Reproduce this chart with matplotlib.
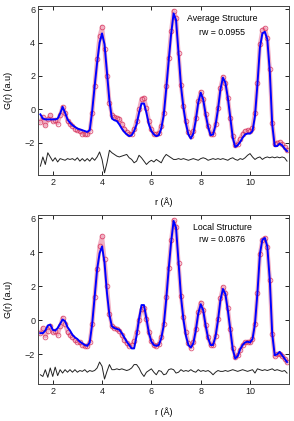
import matplotlib
matplotlib.use("Agg")
import matplotlib.pyplot as plt

plt.rcParams['font.family'] = ['Liberation Sans', 'DejaVu Sans']

# r grid (Angstrom)
r = [1.5, 1.6, 1.7, 1.8, 1.9, 2.0, 2.1, 2.2, 2.3, 2.4,
     2.5, 2.6, 2.7, 2.8, 2.9, 3.0, 3.1, 3.2, 3.3, 3.4,
     3.5, 3.6, 3.7, 3.8, 3.9, 4.0, 4.1, 4.2, 4.3, 4.4,
     4.5, 4.6, 4.7, 4.8, 4.9, 5.0, 5.1, 5.2, 5.3, 5.4,
     5.5, 5.6, 5.7, 5.8, 5.9, 6.0, 6.1, 6.2, 6.3, 6.4,
     6.5, 6.6, 6.7, 6.8, 6.9, 7.0, 7.1, 7.2, 7.3, 7.4,
     7.5, 7.6, 7.7, 7.8, 7.9, 8.0, 8.1, 8.2, 8.3, 8.4,
     8.5, 8.6, 8.7, 8.8, 8.9, 9.0, 9.1, 9.2, 9.3, 9.4,
     9.5, 9.6, 9.7, 9.8, 9.9, 10.0, 10.1, 10.2, 10.3, 10.4,
     10.5, 10.6, 10.7, 10.8, 10.9, 11.0, 11.1, 11.2, 11.3, 11.4,
     11.5]

# measured G(r)
g_obs = [-0.75, -0.45, -0.95, -0.6, -0.35, -0.7, -0.65, -0.85, -0.35, 0.15,
         -0.2, -0.7, -0.85, -1.0, -1.15, -1.25, -1.3, -1.45, -1.5, -1.5,
         -1.3, -0.2, 1.4, 3.0, 4.4, 4.95, 3.6, 2.0, 0.4, -0.35,
         -0.45, -0.5, -0.6, -0.85, -1.15, -1.35, -1.5, -1.45, -1.2, -0.7,
         0.0, 0.65, 0.7, 0.1, -0.7, -1.2, -1.45, -1.5, -1.4, -1.0,
         -0.2, 1.4, 3.1, 4.7, 5.9, 5.5, 3.4, 1.45, 0.2, -0.7,
         -1.35, -1.6, -1.3, -0.5, 0.5, 1.05, 0.6, -0.3, -1.0, -1.45,
         -1.45, -0.9, 0.1, 1.3, 1.95, 1.6, 0.7, -0.5, -1.6, -2.15,
         -2.05, -1.75, -1.45, -1.3, -1.25, -1.3, -1.1, -0.2, 1.6, 3.9,
         4.75, 4.85, 4.3, 2.4, -0.8, -2.1, -2.0, -1.95, -2.1, -2.25,
         -2.45]

# average structure fit
g_avg = [-0.3, -0.55, -0.6, -0.6, -0.6, -0.6, -0.6, -0.55, -0.25, 0.15,
         -0.2, -0.6, -0.8, -0.95, -1.05, -1.15, -1.2, -1.25, -1.3, -1.35,
         -1.25, -0.1, 1.4, 2.8, 4.0, 4.55, 3.9, 2.2, 0.5, -0.55,
         -0.65, -0.7, -0.9, -1.15, -1.35, -1.5, -1.6, -1.55, -1.3, -0.9,
         -0.2, 0.35, 0.35, -0.2, -0.9, -1.3, -1.5, -1.6, -1.55, -1.15,
         -0.35, 1.2, 2.9, 4.5, 5.75, 5.35, 3.4, 1.4, 0.1, -0.85,
         -1.5, -1.75, -1.45, -0.65, 0.4, 1.0, 0.6, -0.3, -1.05, -1.55,
         -1.5, -0.95, 0.0, 1.2, 1.9, 1.6, 0.7, -0.5, -1.7, -2.25,
         -2.15, -1.95, -1.7, -1.5, -1.45, -1.45, -1.3, -0.4, 1.5, 3.7,
         4.55, 4.65, 4.2, 2.3, -0.9, -2.2, -2.2, -2.05, -2.15, -2.35,
         -2.5]

# local structure fit
g_loc = [-0.75, -0.75, -0.6, -0.3, -0.25, -0.55, -0.6, -0.45, -0.2, 0.05,
         -0.05, -0.4, -0.6, -0.85, -1.0, -1.1, -1.25, -1.35, -1.45, -1.5,
         -1.3, -0.2, 1.4, 3.0, 3.95, 4.35, 3.4, 1.6, 0.3, -0.35,
         -0.45, -0.5, -0.55, -0.75, -1.0, -1.25, -1.45, -1.65, -1.65, -0.9,
         0.1, 0.9, 0.9, 0.1, -0.75, -1.25, -1.45, -1.5, -1.45, -1.05,
         -0.3, 1.2, 3.0, 4.6, 5.85, 5.45, 3.45, 1.4, 0.05, -0.9,
         -1.45, -1.6, -1.35, -0.6, 0.4, 0.95, 0.6, -0.3, -1.05, -1.45,
         -1.45, -0.95, 0.0, 1.2, 1.85, 1.55, 0.6, -0.55, -1.7, -2.25,
         -2.1, -1.7, -1.45, -1.3, -1.25, -1.3, -1.1, -0.2, 1.6, 3.9,
         4.75, 4.85, 4.35, 2.4, -0.8, -2.05, -2.0, -1.85, -2.05, -2.25,
         -2.45]

# difference curves (already offset)
d_avg = [-3.4, -2.85, -3.3, -2.6, -2.85, -3.1, -2.9, -3.15, -2.95, -3.0,
         -3.05, -2.95, -3.0, -2.95, -3.05, -2.9, -3.1, -2.95, -3.1, -2.95,
         -3.1, -2.9, -3.05, -2.85, -2.55, -3.0, -3.8, -3.2, -2.45, -2.6,
         -2.7, -2.8, -2.85, -2.8, -2.75, -2.7, -2.9, -3.0, -3.2, -3.1,
         -2.75, -2.9, -3.1, -3.3, -3.15, -3.05, -3.15, -3.0, -3.1, -3.2,
         -2.9, -2.7, -2.8, -2.9, -3.0, -3.0, -2.95, -3.0, -2.95, -3.0,
         -3.05, -3.0, -2.95, -3.0, -3.05, -2.95, -2.9, -2.95, -3.05, -3.0,
         -2.95, -3.0, -2.95, -3.0, -2.95, -3.0, -3.05, -2.95, -2.9, -3.0,
         -3.05, -2.95, -3.0, -2.9, -2.75, -2.65, -2.85, -3.0, -2.9, -2.85,
         -3.0, -2.9, -2.85, -2.9, -2.85, -2.9, -2.85, -2.9, -2.85, -2.9,
         -3.1]

d_loc = [-3.2, -3.3, -2.9, -3.35, -2.8, -3.3, -2.75, -3.25, -2.9, -3.1,
         -2.9, -3.05, -2.9, -3.05, -2.9, -3.05, -2.95, -3.0, -2.9, -3.05,
         -2.95, -3.0, -2.95, -2.8, -2.45, -2.7, -3.45, -3.0, -2.6, -2.9,
         -2.9, -2.85, -2.9, -2.85, -2.9, -2.95, -2.9, -2.8, -2.6, -2.6,
         -2.8, -3.1, -3.3, -3.05, -2.95, -2.85, -3.05, -3.2, -2.95, -3.0,
         -3.2, -3.15, -2.9, -2.85, -2.9, -3.1, -3.05, -2.9, -3.0, -2.95,
         -3.0, -2.9, -3.0, -3.05, -2.9, -3.0, -2.95, -3.0, -2.95, -3.05,
         -3.2, -3.05, -2.95, -3.0, -3.0, -2.95, -3.0, -2.95, -2.9, -2.95,
         -3.0, -2.95, -2.9, -2.95, -3.0, -2.95, -2.9, -3.1, -2.85, -2.9,
         -2.95, -2.9, -2.95, -2.9, -2.85, -2.95, -2.9, -2.95, -3.0, -2.95,
         -3.1]

panels = [
    ("Average Structure", "rw = 0.0955", g_avg, d_avg),
    ("Local Structure", "rw = 0.0876", g_loc, d_loc),
]

fig = plt.figure(figsize=(2.94, 4.21), dpi=100)
ax_top = fig.add_axes([0.129, 0.584, 0.854, 0.402])
ax_bot = fig.add_axes([0.129, 0.088, 0.854, 0.401])
ylims = [(-3.94, 6.2), (-3.74, 6.19)]
label_y = [-0.158, -0.166]
text_y = [(0.923, 0.844), (0.925, 0.856)]

for i, (ax, (name, rw, fit, diff)) in enumerate(zip([ax_top, ax_bot], panels)):
    # data: thick pale band with open circles on it
    ax.plot(r, g_obs, '-', color='#e0507a', lw=3.0, alpha=0.45,
            solid_joinstyle='round', solid_capstyle='round')
    ax.plot(r, g_obs, 'o', ms=3.4, mfc='none', mec='#d42a55', mew=0.6, alpha=0.8)
    ax.plot(r, fit, '-', color='#0000ff', lw=1.4)
    ax.plot(r, diff, '-', color='#222222', lw=0.7)

    ax.set_xlim(1.40, 11.58)
    ax.set_ylim(*ylims[i])
    ax.set_xticks([2, 4, 6, 8, 10])
    ax.set_yticks([-2, 0, 2, 4, 6])
    ax.tick_params(direction='in', top=True, right=True, length=3, width=0.7,
                   labelsize=6.5, pad=2, colors='#222222')
    for sp in ax.spines.values():
        sp.set_linewidth(0.7)
        sp.set_color('#444444')

    ax.set_ylabel("G(r) (a.u)", fontsize=6.5)
    ax.yaxis.set_label_coords(-0.118, 0.5)
    ax.yaxis.label.set_va('center')
    ax.set_xlabel("r (Å)", fontsize=6.5)
    ax.xaxis.set_label_coords(0.5, label_y[i])
    ax.xaxis.label.set_va('center')

    ax.text(0.735, text_y[i][0], name, transform=ax.transAxes, fontsize=6.3,
            ha='center', va='center')
    ax.text(0.735, text_y[i][1], rw, transform=ax.transAxes, fontsize=6.3,
            ha='center', va='center')

fig.savefig("out.png", dpi=100)
